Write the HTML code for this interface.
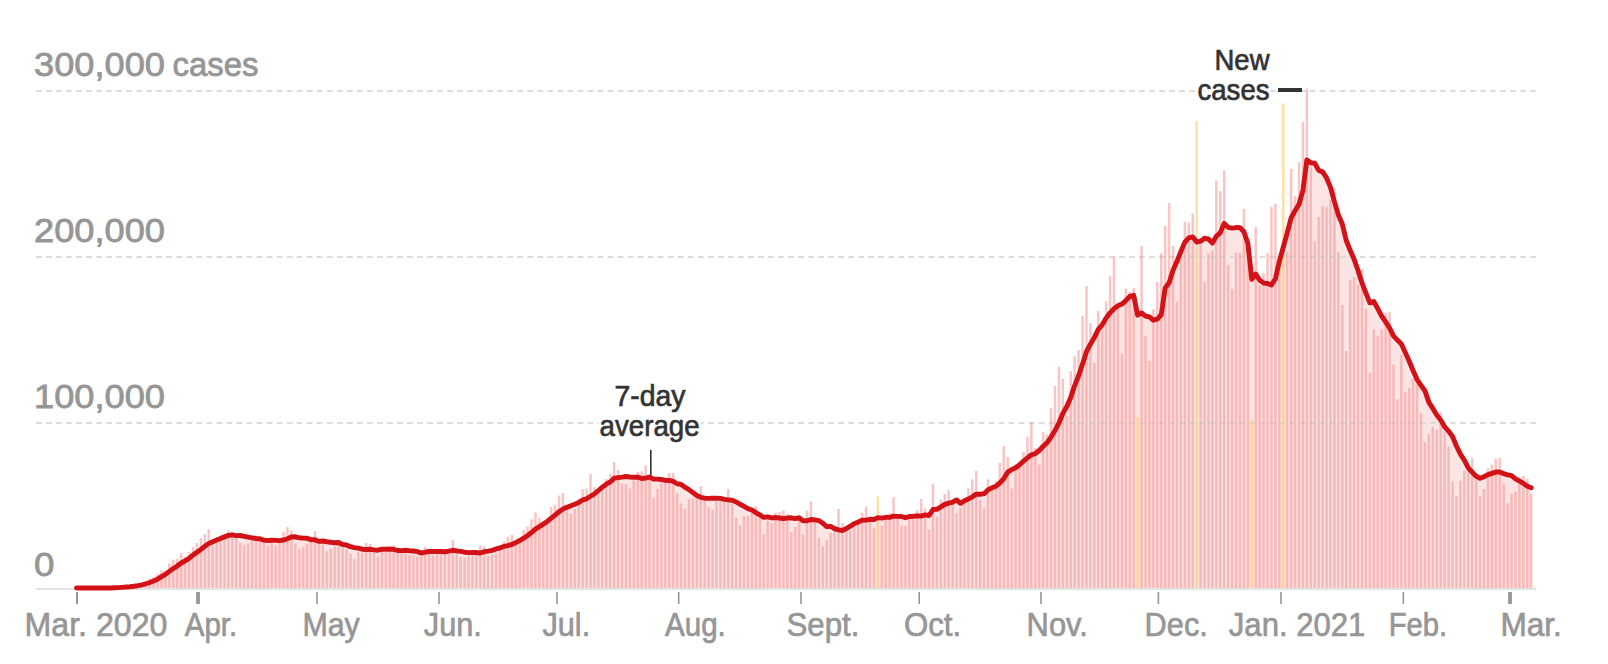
<!DOCTYPE html>
<html><head><meta charset="utf-8"><style>
html,body{margin:0;padding:0;background:#fff;}
svg{display:block;}
text{font-family:"Liberation Sans",sans-serif;}
</style></head><body>
<svg width="1608" height="664" viewBox="0 0 1608 664">
<rect width="1608" height="664" fill="#fff"/>
<g fill="#969696" stroke="#969696" stroke-width="0.8" font-size="34" lengthAdjust="spacingAndGlyphs">
<text x="34" y="76" textLength="131" lengthAdjust="spacingAndGlyphs">300,000</text>
<text x="172.5" y="76" textLength="86" lengthAdjust="spacingAndGlyphs">cases</text>
<text x="34" y="242" textLength="131" lengthAdjust="spacingAndGlyphs">200,000</text>
<text x="34" y="408" textLength="131" lengthAdjust="spacingAndGlyphs">100,000</text>
<text x="34" y="576" textLength="20.5" lengthAdjust="spacingAndGlyphs">0</text>
</g>
<path d="M76.5,589 L76.5,588 L78.85,588 L82.79,588 L86.72,588 L90.66,588 L94.59,588 L98.53,588 L102.47,588 L106.4,588 L110.34,588 L114.27,587.78 L118.21,587.6 L122.15,587.36 L126.08,587.06 L130.02,586.71 L133.95,586.27 L137.89,585.71 L141.83,584.95 L145.76,583.77 L149.7,582.48 L153.63,580.99 L157.57,579.1 L161.51,576.65 L165.44,574.38 L169.38,571.41 L173.31,568.5 L177.25,566.05 L181.19,562.98 L185.12,560.88 L189.06,558.37 L192.99,555.09 L196.93,552.23 L200.87,549.43 L204.8,546.3 L208.74,543.42 L212.67,541.85 L216.61,540.07 L220.55,538.41 L224.48,536.9 L228.42,535.37 L232.35,534.96 L236.29,535.65 L240.23,535.51 L244.16,536.35 L248.1,537.17 L252.03,537.86 L255.97,538.5 L259.91,538.94 L263.84,540.15 L267.78,540.52 L271.71,540.19 L275.65,540.41 L279.59,540.6 L283.52,540.04 L287.46,538.76 L291.39,537.06 L295.33,536.8 L299.27,537.78 L303.2,538.17 L307.14,538.32 L311.07,539.58 L315.01,539.76 L318.95,541.4 L322.88,541 L326.82,541.72 L330.75,542.23 L334.69,542.74 L338.63,542.51 L342.56,544.51 L346.5,544.97 L350.43,546.7 L354.37,547.65 L358.31,548.14 L362.24,549.2 L366.18,549.56 L370.11,549.25 L374.05,549.82 L377.99,550.24 L381.92,549.21 L385.86,549.23 L389.79,549.01 L393.73,549.33 L397.67,550.51 L401.6,550.61 L405.54,550.24 L409.47,550.7 L413.41,551.03 L417.35,551.62 L421.28,553.1 L425.22,552.21 L429.15,551.51 L433.09,551.5 L437.03,551.35 L440.96,551.46 L444.9,551.73 L448.83,551.13 L452.77,550.29 L456.71,550.87 L460.64,551.44 L464.58,552.22 L468.51,552.58 L472.45,552.42 L476.39,552.55 L480.32,552.95 L484.26,551.59 L488.19,551.15 L492.13,550.42 L496.07,548.98 L500,547.86 L503.94,546.45 L507.87,545.66 L511.81,544.46 L515.75,542.59 L519.68,540.51 L523.62,538.22 L527.55,535.6 L531.49,532.54 L535.43,529.07 L539.36,526.63 L543.3,524.14 L547.23,521.43 L551.17,518.18 L555.11,515.08 L559.04,511.69 L562.98,508.95 L566.91,507.25 L570.85,505.85 L574.79,504.16 L578.72,502.57 L582.66,499.92 L586.59,498.78 L590.53,496.24 L594.47,493.9 L598.4,490.51 L602.34,487.15 L606.27,484.22 L610.21,481.97 L614.15,478.13 L618.08,477.57 L622.02,477.11 L625.95,476.51 L629.89,476.97 L633.83,477.27 L637.76,477.1 L641.7,478.57 L645.63,478.05 L649.57,477.04 L653.51,479.07 L657.44,479.16 L661.38,479.51 L665.31,480.34 L669.25,480.49 L673.19,481.44 L677.12,483.74 L681.06,484.41 L684.99,487.22 L688.93,489.61 L692.87,492.58 L696.8,495.52 L700.74,497.3 L704.67,498.21 L708.61,498.39 L712.55,498.19 L716.48,498.21 L720.42,498.39 L724.35,499.42 L728.29,499.82 L732.23,500.27 L736.16,501.9 L740.1,504.25 L744.03,506.46 L747.97,508.7 L751.91,509.97 L755.84,512.64 L759.78,514.87 L763.71,517.36 L767.65,516.86 L771.59,517.93 L775.52,517.53 L779.46,518.01 L783.39,518.61 L787.33,518.06 L791.27,517.8 L795.2,518.66 L799.14,517.76 L803.07,520.87 L807.01,520.79 L810.95,519.47 L814.88,519.9 L818.82,520.56 L822.75,523.23 L826.69,526.57 L830.63,526.4 L834.56,528.73 L838.5,529.83 L842.43,530.47 L846.37,528.57 L850.31,526.23 L854.24,523.66 L858.18,522.08 L862.11,520.32 L866.05,520.1 L869.99,519.32 L873.92,519.54 L877.86,517.64 L881.79,518.07 L885.73,517.32 L889.67,517.36 L893.6,516.14 L897.54,516.33 L901.47,516.51 L905.41,517.74 L909.35,516.52 L913.28,516.23 L917.22,515.84 L921.15,516.07 L925.09,514.86 L929.03,515.49 L932.96,509.53 L936.9,509.41 L940.83,506.92 L944.77,504.41 L948.71,503.15 L952.64,502.07 L956.58,499.89 L960.51,503.35 L964.45,500.8 L968.39,499.06 L972.32,496.86 L976.26,494.13 L980.19,494.25 L984.13,493.68 L988.07,489.72 L992,487.85 L995.94,486.25 L999.87,482.85 L1003.81,478.54 L1007.75,472.1 L1011.68,469.67 L1015.62,467.76 L1019.55,464.79 L1023.49,461.16 L1027.43,457.82 L1031.36,454.77 L1035.3,453.72 L1039.23,450.52 L1043.17,446.24 L1047.11,442.68 L1051.04,437.07 L1054.98,430.48 L1058.91,423.04 L1062.85,413.47 L1066.79,406.52 L1070.72,397.56 L1074.66,385.54 L1078.59,375.75 L1082.53,363.94 L1086.47,351.67 L1090.4,344.15 L1094.34,337.61 L1098.27,329.3 L1102.21,324.76 L1106.15,317.95 L1110.08,312.82 L1114.02,308.68 L1117.95,305.83 L1121.89,304.1 L1125.83,300.69 L1129.76,296.44 L1133.7,295.34 L1137.63,315.21 L1141.57,312.9 L1145.51,316.06 L1149.44,316.99 L1153.38,320.21 L1157.31,319.13 L1161.25,314.64 L1165.19,287.95 L1169.12,282.7 L1173.06,270.22 L1176.99,261.27 L1180.93,251.44 L1184.87,242.09 L1188.8,237.8 L1192.74,236.89 L1196.67,242.1 L1200.61,241.17 L1204.55,238.3 L1208.48,238.97 L1212.42,242.92 L1216.35,236.31 L1220.29,232.61 L1224.23,223.39 L1228.16,227.41 L1232.1,228.14 L1236.03,227.55 L1239.97,227.62 L1243.91,231.8 L1247.84,243.18 L1251.78,279.33 L1255.71,274.03 L1259.65,280.18 L1263.59,283.07 L1267.52,283.48 L1271.46,284.96 L1275.39,278.78 L1279.33,261.34 L1283.27,247.24 L1287.2,232.83 L1291.14,217.78 L1295.07,210.74 L1299.01,204.23 L1302.95,190.41 L1306.88,159.86 L1310.82,162.79 L1314.75,163.28 L1318.69,170.41 L1322.63,171.85 L1326.56,177.87 L1330.5,187.42 L1334.43,201.77 L1338.37,214.91 L1342.31,224.07 L1346.24,240.5 L1350.18,250.23 L1354.11,259.34 L1358.05,270.48 L1361.99,282.97 L1365.92,293.04 L1369.86,302.84 L1373.79,301.5 L1377.73,308.55 L1381.67,316.1 L1385.6,321.92 L1389.54,327.88 L1393.47,335.89 L1397.41,340.08 L1401.35,344.08 L1405.28,352.48 L1409.22,361.2 L1413.15,370.7 L1417.09,379.56 L1421.03,385.31 L1424.96,390.9 L1428.9,402.38 L1432.83,408.4 L1436.77,415.04 L1440.71,419.99 L1444.64,426.91 L1448.58,431.17 L1452.51,436.56 L1456.45,445.95 L1460.39,454.1 L1464.32,460.14 L1468.26,467.92 L1472.19,472.22 L1476.13,476.17 L1480.07,478.33 L1484,476.78 L1487.94,474.7 L1491.87,473.41 L1495.81,472.07 L1499.75,472.07 L1503.68,473.6 L1507.62,474.84 L1511.55,475.6 L1515.49,478.93 L1519.43,480.99 L1523.36,483.35 L1527.3,486.29 L1531.23,487.72 L1531.23,589 Z" fill="#fbe4e4"/>
<g stroke="#dcdcdc" stroke-width="1.8" stroke-dasharray="5.8 4.228">
<line x1="36" y1="91" x2="1536" y2="91"/>
<line x1="36" y1="257" x2="1536" y2="257"/>
<line x1="36" y1="423" x2="1536" y2="423"/>
</g>
<g fill="#f69595" fill-opacity="0.556"><rect x="113.02" y="588" width="2.5" height="1"/><rect x="116.96" y="587.8" width="2.5" height="1.2"/><rect x="120.9" y="587.6" width="2.5" height="1.4"/><rect x="124.83" y="587.4" width="2.5" height="1.6"/><rect x="128.77" y="587.2" width="2.5" height="1.8"/><rect x="132.7" y="586.5" width="2.5" height="2.5"/><rect x="136.64" y="585.5" width="2.5" height="3.5"/><rect x="140.58" y="584" width="2.5" height="5"/><rect x="144.51" y="581" width="2.5" height="8"/><rect x="148.45" y="578.6" width="2.5" height="10.4"/><rect x="152.38" y="577" width="2.5" height="12"/><rect x="156.32" y="573.9" width="2.5" height="15.1"/><rect x="160.26" y="570.6" width="2.5" height="18.4"/><rect x="164.19" y="570.7" width="2.5" height="18.3"/><rect x="168.13" y="563.35" width="2.5" height="25.65"/><rect x="172.06" y="559.55" width="2.5" height="29.45"/><rect x="176" y="558.85" width="2.5" height="30.15"/><rect x="179.94" y="552.8" width="2.5" height="36.2"/><rect x="183.87" y="557" width="2.5" height="32"/><rect x="187.81" y="551.9" width="2.5" height="37.1"/><rect x="191.74" y="547.1" width="2.5" height="41.9"/><rect x="195.68" y="542.8" width="2.5" height="46.2"/><rect x="199.62" y="538.3" width="2.5" height="50.7"/><rect x="203.55" y="534.1" width="2.5" height="54.9"/><rect x="207.49" y="529.3" width="2.5" height="59.7"/><rect x="211.42" y="545.5" width="2.5" height="43.5"/><rect x="215.36" y="542.5" width="2.5" height="46.5"/><rect x="219.3" y="540.7" width="2.5" height="48.3"/><rect x="223.23" y="538.9" width="2.5" height="50.1"/><rect x="227.17" y="530.2" width="2.5" height="58.8"/><rect x="231.1" y="532.3" width="2.5" height="56.7"/><rect x="235.04" y="537.1" width="2.5" height="51.9"/><rect x="238.98" y="542.8" width="2.5" height="46.2"/><rect x="242.91" y="544.9" width="2.5" height="44.1"/><rect x="246.85" y="543.5" width="2.5" height="45.5"/><rect x="250.78" y="540.7" width="2.5" height="48.3"/><rect x="254.72" y="535.3" width="2.5" height="53.7"/><rect x="258.66" y="535.9" width="2.5" height="53.1"/><rect x="262.59" y="542.5" width="2.5" height="46.5"/><rect x="266.53" y="545.9" width="2.5" height="43.1"/><rect x="270.46" y="543.1" width="2.5" height="45.9"/><rect x="274.4" y="545.5" width="2.5" height="43.5"/><rect x="278.34" y="542.5" width="2.5" height="46.5"/><rect x="282.27" y="531.7" width="2.5" height="57.3"/><rect x="286.21" y="527.1" width="2.5" height="61.9"/><rect x="290.14" y="530.7" width="2.5" height="58.3"/><rect x="294.08" y="543.7" width="2.5" height="45.3"/><rect x="298.02" y="549.2" width="2.5" height="39.8"/><rect x="301.95" y="547.1" width="2.5" height="41.9"/><rect x="305.89" y="543.7" width="2.5" height="45.3"/><rect x="309.82" y="541.9" width="2.5" height="47.1"/><rect x="313.76" y="531.1" width="2.5" height="57.9"/><rect x="317.7" y="543.1" width="2.5" height="45.9"/><rect x="321.63" y="544.3" width="2.5" height="44.7"/><rect x="325.57" y="551.3" width="2.5" height="37.7"/><rect x="329.5" y="548.6" width="2.5" height="40.4"/><rect x="333.44" y="546.7" width="2.5" height="42.3"/><rect x="337.38" y="545" width="2.5" height="44"/><rect x="341.31" y="547.3" width="2.5" height="41.7"/><rect x="345.25" y="549.2" width="2.5" height="39.8"/><rect x="349.18" y="554" width="2.5" height="35"/><rect x="353.12" y="558.8" width="2.5" height="30.2"/><rect x="357.06" y="551.6" width="2.5" height="37.4"/><rect x="360.99" y="552.8" width="2.5" height="36.2"/><rect x="364.93" y="542.8" width="2.5" height="46.2"/><rect x="368.86" y="544" width="2.5" height="45"/><rect x="372.8" y="552.2" width="2.5" height="36.8"/><rect x="376.74" y="556.4" width="2.5" height="32.6"/><rect x="380.67" y="551.6" width="2.5" height="37.4"/><rect x="384.61" y="552.2" width="2.5" height="36.8"/><rect x="388.54" y="551.6" width="2.5" height="37.4"/><rect x="392.48" y="545.2" width="2.5" height="43.8"/><rect x="396.42" y="552.2" width="2.5" height="36.8"/><rect x="400.35" y="552.8" width="2.5" height="36.2"/><rect x="404.29" y="554" width="2.5" height="35"/><rect x="408.22" y="555.2" width="2.5" height="33.8"/><rect x="412.16" y="555.2" width="2.5" height="33.8"/><rect x="416.1" y="556.4" width="2.5" height="32.6"/><rect x="420.03" y="556.4" width="2.5" height="32.6"/><rect x="423.97" y="547.1" width="2.5" height="41.9"/><rect x="427.9" y="549.2" width="2.5" height="39.8"/><rect x="431.84" y="555.2" width="2.5" height="33.8"/><rect x="435.78" y="554.6" width="2.5" height="34.4"/><rect x="439.71" y="554" width="2.5" height="35"/><rect x="443.65" y="554" width="2.5" height="35"/><rect x="447.58" y="553.6" width="2.5" height="35.4"/><rect x="451.52" y="540" width="2.5" height="49"/><rect x="455.46" y="553.2" width="2.5" height="35.8"/><rect x="459.39" y="557" width="2.5" height="32"/><rect x="463.33" y="557.9" width="2.5" height="31.1"/><rect x="467.26" y="555.9" width="2.5" height="33.1"/><rect x="471.2" y="553.9" width="2.5" height="35.1"/><rect x="475.14" y="553.2" width="2.5" height="35.8"/><rect x="479.07" y="545.3" width="2.5" height="43.7"/><rect x="483.01" y="546" width="2.5" height="43"/><rect x="486.94" y="555.9" width="2.5" height="33.1"/><rect x="490.88" y="554.5" width="2.5" height="34.5"/><rect x="494.82" y="553.2" width="2.5" height="35.8"/><rect x="498.75" y="545.5" width="2.5" height="43.5"/><rect x="502.69" y="541.3" width="2.5" height="47.7"/><rect x="506.62" y="536.9" width="2.5" height="52.1"/><rect x="510.56" y="534.9" width="2.5" height="54.1"/><rect x="514.5" y="545" width="2.5" height="44"/><rect x="518.43" y="539.6" width="2.5" height="49.4"/><rect x="522.37" y="529.9" width="2.5" height="59.1"/><rect x="526.3" y="526.4" width="2.5" height="62.6"/><rect x="530.24" y="519.3" width="2.5" height="69.7"/><rect x="534.18" y="512.3" width="2.5" height="76.7"/><rect x="538.11" y="517.7" width="2.5" height="71.3"/><rect x="542.05" y="524.7" width="2.5" height="64.3"/><rect x="545.98" y="520.7" width="2.5" height="68.3"/><rect x="549.92" y="507.1" width="2.5" height="81.9"/><rect x="553.86" y="504.8" width="2.5" height="84.2"/><rect x="557.79" y="495.6" width="2.5" height="93.4"/><rect x="561.73" y="493.1" width="2.5" height="95.9"/><rect x="565.66" y="509.1" width="2.5" height="79.9"/><rect x="569.6" y="513.6" width="2.5" height="75.4"/><rect x="573.54" y="509" width="2.5" height="80"/><rect x="577.47" y="498.5" width="2.5" height="90.5"/><rect x="581.41" y="489" width="2.5" height="100"/><rect x="585.34" y="488.4" width="2.5" height="100.6"/><rect x="589.28" y="474.1" width="2.5" height="114.9"/><rect x="593.22" y="487.3" width="2.5" height="101.7"/><rect x="597.15" y="493.8" width="2.5" height="95.2"/><rect x="601.09" y="489.7" width="2.5" height="99.3"/><rect x="605.02" y="478.9" width="2.5" height="110.1"/><rect x="608.96" y="474.1" width="2.5" height="114.9"/><rect x="612.9" y="461.9" width="2.5" height="127.1"/><rect x="616.83" y="470.1" width="2.5" height="118.9"/><rect x="620.77" y="483.6" width="2.5" height="105.4"/><rect x="624.7" y="484.3" width="2.5" height="104.7"/><rect x="628.64" y="488.4" width="2.5" height="100.6"/><rect x="632.58" y="480.2" width="2.5" height="108.8"/><rect x="636.51" y="472.1" width="2.5" height="116.9"/><rect x="640.45" y="471.4" width="2.5" height="117.6"/><rect x="644.38" y="465.6" width="2.5" height="123.4"/><rect x="648.32" y="477.5" width="2.5" height="111.5"/><rect x="652.26" y="497.9" width="2.5" height="91.1"/><rect x="656.19" y="489" width="2.5" height="100"/><rect x="660.13" y="483" width="2.5" height="106"/><rect x="664.06" y="483" width="2.5" height="106"/><rect x="668" y="473.2" width="2.5" height="115.8"/><rect x="671.94" y="473.2" width="2.5" height="115.8"/><rect x="675.87" y="493.1" width="2.5" height="95.9"/><rect x="679.81" y="503.3" width="2.5" height="85.7"/><rect x="683.74" y="508.7" width="2.5" height="80.3"/><rect x="687.68" y="498.9" width="2.5" height="90.1"/><rect x="691.62" y="498.5" width="2.5" height="90.5"/><rect x="695.55" y="498" width="2.5" height="91"/><rect x="699.49" y="486.3" width="2.5" height="102.7"/><rect x="703.42" y="501.2" width="2.5" height="87.8"/><rect x="707.36" y="506.9" width="2.5" height="82.1"/><rect x="711.3" y="509.6" width="2.5" height="79.4"/><rect x="715.23" y="501.4" width="2.5" height="87.6"/><rect x="719.17" y="501.4" width="2.5" height="87.6"/><rect x="723.1" y="501.4" width="2.5" height="87.6"/><rect x="727.04" y="489" width="2.5" height="100"/><rect x="730.98" y="503.9" width="2.5" height="85.1"/><rect x="734.91" y="517.7" width="2.5" height="71.3"/><rect x="738.85" y="525.3" width="2.5" height="63.7"/><rect x="742.78" y="516.1" width="2.5" height="72.9"/><rect x="746.72" y="516.1" width="2.5" height="72.9"/><rect x="750.66" y="513.4" width="2.5" height="75.6"/><rect x="754.59" y="506.3" width="2.5" height="82.7"/><rect x="758.53" y="518.1" width="2.5" height="70.9"/><rect x="762.46" y="534" width="2.5" height="55"/><rect x="766.4" y="520.8" width="2.5" height="68.2"/><rect x="770.34" y="522.9" width="2.5" height="66.1"/><rect x="774.27" y="512.7" width="2.5" height="76.3"/><rect x="778.21" y="512" width="2.5" height="77"/><rect x="782.14" y="510.3" width="2.5" height="78.7"/><rect x="786.08" y="514.1" width="2.5" height="74.9"/><rect x="790.02" y="532.1" width="2.5" height="56.9"/><rect x="793.95" y="526.9" width="2.5" height="62.1"/><rect x="797.89" y="520.1" width="2.5" height="68.9"/><rect x="801.82" y="534" width="2.5" height="55"/><rect x="805.76" y="510.7" width="2.5" height="78.3"/><rect x="809.7" y="501.4" width="2.5" height="87.6"/><rect x="813.63" y="521.5" width="2.5" height="67.5"/><rect x="817.57" y="538" width="2.5" height="51"/><rect x="821.5" y="546.2" width="2.5" height="42.8"/><rect x="825.44" y="539.8" width="2.5" height="49.2"/><rect x="829.38" y="532.6" width="2.5" height="56.4"/><rect x="833.31" y="531" width="2.5" height="58"/><rect x="837.25" y="509" width="2.5" height="80"/><rect x="841.18" y="523.1" width="2.5" height="65.9"/><rect x="845.12" y="531" width="2.5" height="58"/><rect x="849.06" y="531" width="2.5" height="58"/><rect x="852.99" y="526.9" width="2.5" height="62.1"/><rect x="856.93" y="522.9" width="2.5" height="66.1"/><rect x="860.86" y="512.7" width="2.5" height="76.3"/><rect x="864.8" y="506.6" width="2.5" height="82.4"/><rect x="868.74" y="521.5" width="2.5" height="67.5"/><rect x="872.67" y="527.6" width="2.5" height="61.4"/><rect x="880.54" y="525.8" width="2.5" height="63.2"/><rect x="884.48" y="520.1" width="2.5" height="68.9"/><rect x="888.42" y="513.1" width="2.5" height="75.9"/><rect x="892.35" y="497.1" width="2.5" height="91.9"/><rect x="896.29" y="516.8" width="2.5" height="72.2"/><rect x="900.22" y="525.8" width="2.5" height="63.2"/><rect x="904.16" y="525.8" width="2.5" height="63.2"/><rect x="908.1" y="516.1" width="2.5" height="72.9"/><rect x="912.03" y="514.7" width="2.5" height="74.3"/><rect x="915.97" y="510.7" width="2.5" height="78.3"/><rect x="919.9" y="498.9" width="2.5" height="90.1"/><rect x="923.84" y="508.4" width="2.5" height="80.6"/><rect x="927.78" y="529.6" width="2.5" height="59.4"/><rect x="931.71" y="484" width="2.5" height="105"/><rect x="935.65" y="516.8" width="2.5" height="72.2"/><rect x="939.58" y="499.8" width="2.5" height="89.2"/><rect x="943.52" y="494.1" width="2.5" height="94.9"/><rect x="947.46" y="490.2" width="2.5" height="98.8"/><rect x="951.39" y="503.8" width="2.5" height="85.2"/><rect x="955.33" y="513.2" width="2.5" height="75.8"/><rect x="959.26" y="507.7" width="2.5" height="81.3"/><rect x="963.2" y="497.9" width="2.5" height="91.1"/><rect x="967.14" y="488.5" width="2.5" height="100.5"/><rect x="971.07" y="479.3" width="2.5" height="109.7"/><rect x="975.01" y="470.9" width="2.5" height="118.1"/><rect x="978.94" y="499.8" width="2.5" height="89.2"/><rect x="982.88" y="507.7" width="2.5" height="81.3"/><rect x="986.82" y="479.3" width="2.5" height="109.7"/><rect x="990.75" y="486.1" width="2.5" height="102.9"/><rect x="994.69" y="480.7" width="2.5" height="108.3"/><rect x="998.62" y="463" width="2.5" height="126"/><rect x="1002.56" y="446" width="2.5" height="143"/><rect x="1006.5" y="457.2" width="2.5" height="131.8"/><rect x="1010.43" y="488.5" width="2.5" height="100.5"/><rect x="1014.37" y="464.2" width="2.5" height="124.8"/><rect x="1018.3" y="466.6" width="2.5" height="122.4"/><rect x="1022.24" y="451.9" width="2.5" height="137.1"/><rect x="1026.18" y="436.8" width="2.5" height="152.2"/><rect x="1030.11" y="422.5" width="2.5" height="166.5"/><rect x="1034.05" y="448" width="2.5" height="141"/><rect x="1037.98" y="464.6" width="2.5" height="124.4"/><rect x="1041.92" y="432" width="2.5" height="157"/><rect x="1045.86" y="434.3" width="2.5" height="154.7"/><rect x="1049.79" y="408.1" width="2.5" height="180.9"/><rect x="1053.73" y="386.1" width="2.5" height="202.9"/><rect x="1057.66" y="366.9" width="2.5" height="222.1"/><rect x="1061.6" y="378.9" width="2.5" height="210.1"/><rect x="1065.54" y="415.7" width="2.5" height="173.3"/><rect x="1069.47" y="371.1" width="2.5" height="217.9"/><rect x="1073.41" y="356" width="2.5" height="233"/><rect x="1077.34" y="350" width="2.5" height="239"/><rect x="1081.28" y="315.7" width="2.5" height="273.3"/><rect x="1085.22" y="286.1" width="2.5" height="302.9"/><rect x="1089.15" y="323.2" width="2.5" height="265.8"/><rect x="1093.09" y="363" width="2.5" height="226"/><rect x="1097.02" y="311.1" width="2.5" height="277.9"/><rect x="1100.96" y="326.8" width="2.5" height="262.2"/><rect x="1104.9" y="301.2" width="2.5" height="287.8"/><rect x="1108.83" y="276.2" width="2.5" height="312.8"/><rect x="1112.77" y="256.6" width="2.5" height="332.4"/><rect x="1116.7" y="305.7" width="2.5" height="283.3"/><rect x="1120.64" y="353.9" width="2.5" height="235.1"/><rect x="1124.58" y="288.6" width="2.5" height="300.4"/><rect x="1128.51" y="292.2" width="2.5" height="296.8"/><rect x="1132.45" y="287.8" width="2.5" height="301.2"/><rect x="1140.32" y="245.8" width="2.5" height="343.2"/><rect x="1144.26" y="336.2" width="2.5" height="252.8"/><rect x="1148.19" y="361" width="2.5" height="228"/><rect x="1152.13" y="309.1" width="2.5" height="279.9"/><rect x="1156.06" y="282" width="2.5" height="307"/><rect x="1160" y="253.4" width="2.5" height="335.6"/><rect x="1163.94" y="225.7" width="2.5" height="363.3"/><rect x="1167.87" y="203.1" width="2.5" height="385.9"/><rect x="1171.81" y="245.8" width="2.5" height="343.2"/><rect x="1175.74" y="301.6" width="2.5" height="287.4"/><rect x="1179.68" y="250.4" width="2.5" height="338.6"/><rect x="1183.62" y="221.7" width="2.5" height="367.3"/><rect x="1187.55" y="222.7" width="2.5" height="366.3"/><rect x="1191.49" y="213.6" width="2.5" height="375.4"/><rect x="1199.36" y="241.3" width="2.5" height="347.7"/><rect x="1203.3" y="282" width="2.5" height="307"/><rect x="1207.23" y="253.4" width="2.5" height="335.6"/><rect x="1211.17" y="250.4" width="2.5" height="338.6"/><rect x="1215.1" y="180.5" width="2.5" height="408.5"/><rect x="1219.04" y="191" width="2.5" height="398"/><rect x="1222.98" y="170.5" width="2.5" height="418.5"/><rect x="1226.91" y="265.4" width="2.5" height="323.6"/><rect x="1230.85" y="289.1" width="2.5" height="299.9"/><rect x="1234.78" y="252.9" width="2.5" height="336.1"/><rect x="1238.72" y="252.9" width="2.5" height="336.1"/><rect x="1242.66" y="208.8" width="2.5" height="380.2"/><rect x="1246.59" y="243" width="2.5" height="346"/><rect x="1254.46" y="227.2" width="2.5" height="361.8"/><rect x="1258.4" y="285" width="2.5" height="304"/><rect x="1262.34" y="273.4" width="2.5" height="315.6"/><rect x="1266.27" y="253.2" width="2.5" height="335.8"/><rect x="1270.21" y="206.7" width="2.5" height="382.3"/><rect x="1274.14" y="203.7" width="2.5" height="385.3"/><rect x="1278.08" y="255" width="2.5" height="334"/><rect x="1285.95" y="251.8" width="2.5" height="337.2"/><rect x="1289.89" y="168.9" width="2.5" height="420.1"/><rect x="1293.82" y="196" width="2.5" height="393"/><rect x="1297.76" y="161.9" width="2.5" height="427.1"/><rect x="1301.7" y="122.2" width="2.5" height="466.8"/><rect x="1305.63" y="88.4" width="2.5" height="500.6"/><rect x="1309.57" y="167.3" width="2.5" height="421.7"/><rect x="1313.5" y="241.1" width="2.5" height="347.9"/><rect x="1317.44" y="217" width="2.5" height="372"/><rect x="1321.38" y="206.1" width="2.5" height="382.9"/><rect x="1325.31" y="206.9" width="2.5" height="382.1"/><rect x="1329.25" y="200" width="2.5" height="389"/><rect x="1333.18" y="188.2" width="2.5" height="400.8"/><rect x="1337.12" y="252" width="2.5" height="337"/><rect x="1341.06" y="305" width="2.5" height="284"/><rect x="1344.99" y="351" width="2.5" height="238"/><rect x="1348.93" y="280.1" width="2.5" height="308.9"/><rect x="1352.86" y="277" width="2.5" height="312"/><rect x="1356.8" y="284.6" width="2.5" height="304.4"/><rect x="1360.74" y="268.9" width="2.5" height="320.1"/><rect x="1364.67" y="308.7" width="2.5" height="280.3"/><rect x="1368.61" y="372.6" width="2.5" height="216.4"/><rect x="1372.54" y="329.2" width="2.5" height="259.8"/><rect x="1376.48" y="335.8" width="2.5" height="253.2"/><rect x="1380.42" y="329.2" width="2.5" height="259.8"/><rect x="1384.35" y="312.9" width="2.5" height="276.1"/><rect x="1388.29" y="312" width="2.5" height="277"/><rect x="1392.22" y="364.7" width="2.5" height="224.3"/><rect x="1396.16" y="399" width="2.5" height="190"/><rect x="1400.1" y="354.8" width="2.5" height="234.2"/><rect x="1404.03" y="391.8" width="2.5" height="197.2"/><rect x="1407.97" y="387.9" width="2.5" height="201.1"/><rect x="1411.9" y="378.9" width="2.5" height="210.1"/><rect x="1415.84" y="383.4" width="2.5" height="205.6"/><rect x="1419.78" y="412.9" width="2.5" height="176.1"/><rect x="1423.71" y="442.1" width="2.5" height="146.9"/><rect x="1427.65" y="434" width="2.5" height="155"/><rect x="1431.58" y="427" width="2.5" height="162"/><rect x="1435.52" y="430" width="2.5" height="159"/><rect x="1439.46" y="412" width="2.5" height="177"/><rect x="1443.39" y="431.6" width="2.5" height="157.4"/><rect x="1447.33" y="446.7" width="2.5" height="142.3"/><rect x="1451.26" y="481.6" width="2.5" height="107.4"/><rect x="1455.2" y="496" width="2.5" height="93"/><rect x="1459.14" y="480.7" width="2.5" height="108.3"/><rect x="1463.07" y="470.8" width="2.5" height="118.2"/><rect x="1467.01" y="470" width="2.5" height="119"/><rect x="1470.94" y="458.1" width="2.5" height="130.9"/><rect x="1474.88" y="473" width="2.5" height="116"/><rect x="1478.82" y="496" width="2.5" height="93"/><rect x="1482.75" y="489" width="2.5" height="100"/><rect x="1486.69" y="468.3" width="2.5" height="120.7"/><rect x="1490.62" y="464.4" width="2.5" height="124.6"/><rect x="1494.56" y="458.8" width="2.5" height="130.2"/><rect x="1498.5" y="458.1" width="2.5" height="130.9"/><rect x="1502.43" y="483.7" width="2.5" height="105.3"/><rect x="1506.37" y="503.3" width="2.5" height="85.7"/><rect x="1510.3" y="493.9" width="2.5" height="95.1"/><rect x="1514.24" y="492" width="2.5" height="97"/><rect x="1518.18" y="482" width="2.5" height="107"/><rect x="1522.11" y="475.8" width="2.5" height="113.2"/><rect x="1526.05" y="478.9" width="2.5" height="110.1"/><rect x="1529.98" y="493.9" width="2.5" height="95.1"/></g>
<g fill="#fbc151" fill-opacity="0.5"><rect x="876.61" y="496.4" width="2.5" height="92.6"/><rect x="1136.38" y="417" width="2.5" height="172"/><rect x="1195.42" y="121" width="2.5" height="468"/><rect x="1250.53" y="420" width="2.5" height="169"/><rect x="1282.02" y="103.5" width="2.5" height="485.5"/></g>
<line x1="36" y1="589" x2="1536" y2="589" stroke="#e2e4e4" stroke-width="1.8"/>
<path d="M76.5,588 L78.85,588 L82.79,588 L86.72,588 L90.66,588 L94.59,588 L98.53,588 L102.47,588 L106.4,588 L110.34,588 L114.27,587.78 L118.21,587.6 L122.15,587.36 L126.08,587.06 L130.02,586.71 L133.95,586.27 L137.89,585.71 L141.83,584.95 L145.76,583.77 L149.7,582.48 L153.63,580.99 L157.57,579.1 L161.51,576.65 L165.44,574.38 L169.38,571.41 L173.31,568.5 L177.25,566.05 L181.19,562.98 L185.12,560.88 L189.06,558.37 L192.99,555.09 L196.93,552.23 L200.87,549.43 L204.8,546.3 L208.74,543.42 L212.67,541.85 L216.61,540.07 L220.55,538.41 L224.48,536.9 L228.42,535.37 L232.35,534.96 L236.29,535.65 L240.23,535.51 L244.16,536.35 L248.1,537.17 L252.03,537.86 L255.97,538.5 L259.91,538.94 L263.84,540.15 L267.78,540.52 L271.71,540.19 L275.65,540.41 L279.59,540.6 L283.52,540.04 L287.46,538.76 L291.39,537.06 L295.33,536.8 L299.27,537.78 L303.2,538.17 L307.14,538.32 L311.07,539.58 L315.01,539.76 L318.95,541.4 L322.88,541 L326.82,541.72 L330.75,542.23 L334.69,542.74 L338.63,542.51 L342.56,544.51 L346.5,544.97 L350.43,546.7 L354.37,547.65 L358.31,548.14 L362.24,549.2 L366.18,549.56 L370.11,549.25 L374.05,549.82 L377.99,550.24 L381.92,549.21 L385.86,549.23 L389.79,549.01 L393.73,549.33 L397.67,550.51 L401.6,550.61 L405.54,550.24 L409.47,550.7 L413.41,551.03 L417.35,551.62 L421.28,553.1 L425.22,552.21 L429.15,551.51 L433.09,551.5 L437.03,551.35 L440.96,551.46 L444.9,551.73 L448.83,551.13 L452.77,550.29 L456.71,550.87 L460.64,551.44 L464.58,552.22 L468.51,552.58 L472.45,552.42 L476.39,552.55 L480.32,552.95 L484.26,551.59 L488.19,551.15 L492.13,550.42 L496.07,548.98 L500,547.86 L503.94,546.45 L507.87,545.66 L511.81,544.46 L515.75,542.59 L519.68,540.51 L523.62,538.22 L527.55,535.6 L531.49,532.54 L535.43,529.07 L539.36,526.63 L543.3,524.14 L547.23,521.43 L551.17,518.18 L555.11,515.08 L559.04,511.69 L562.98,508.95 L566.91,507.25 L570.85,505.85 L574.79,504.16 L578.72,502.57 L582.66,499.92 L586.59,498.78 L590.53,496.24 L594.47,493.9 L598.4,490.51 L602.34,487.15 L606.27,484.22 L610.21,481.97 L614.15,478.13 L618.08,477.57 L622.02,477.11 L625.95,476.51 L629.89,476.97 L633.83,477.27 L637.76,477.1 L641.7,478.57 L645.63,478.05 L649.57,477.04 L653.51,479.07 L657.44,479.16 L661.38,479.51 L665.31,480.34 L669.25,480.49 L673.19,481.44 L677.12,483.74 L681.06,484.41 L684.99,487.22 L688.93,489.61 L692.87,492.58 L696.8,495.52 L700.74,497.3 L704.67,498.21 L708.61,498.39 L712.55,498.19 L716.48,498.21 L720.42,498.39 L724.35,499.42 L728.29,499.82 L732.23,500.27 L736.16,501.9 L740.1,504.25 L744.03,506.46 L747.97,508.7 L751.91,509.97 L755.84,512.64 L759.78,514.87 L763.71,517.36 L767.65,516.86 L771.59,517.93 L775.52,517.53 L779.46,518.01 L783.39,518.61 L787.33,518.06 L791.27,517.8 L795.2,518.66 L799.14,517.76 L803.07,520.87 L807.01,520.79 L810.95,519.47 L814.88,519.9 L818.82,520.56 L822.75,523.23 L826.69,526.57 L830.63,526.4 L834.56,528.73 L838.5,529.83 L842.43,530.47 L846.37,528.57 L850.31,526.23 L854.24,523.66 L858.18,522.08 L862.11,520.32 L866.05,520.1 L869.99,519.32 L873.92,519.54 L877.86,517.64 L881.79,518.07 L885.73,517.32 L889.67,517.36 L893.6,516.14 L897.54,516.33 L901.47,516.51 L905.41,517.74 L909.35,516.52 L913.28,516.23 L917.22,515.84 L921.15,516.07 L925.09,514.86 L929.03,515.49 L932.96,509.53 L936.9,509.41 L940.83,506.92 L944.77,504.41 L948.71,503.15 L952.64,502.07 L956.58,499.89 L960.51,503.35 L964.45,500.8 L968.39,499.06 L972.32,496.86 L976.26,494.13 L980.19,494.25 L984.13,493.68 L988.07,489.72 L992,487.85 L995.94,486.25 L999.87,482.85 L1003.81,478.54 L1007.75,472.1 L1011.68,469.67 L1015.62,467.76 L1019.55,464.79 L1023.49,461.16 L1027.43,457.82 L1031.36,454.77 L1035.3,453.72 L1039.23,450.52 L1043.17,446.24 L1047.11,442.68 L1051.04,437.07 L1054.98,430.48 L1058.91,423.04 L1062.85,413.47 L1066.79,406.52 L1070.72,397.56 L1074.66,385.54 L1078.59,375.75 L1082.53,363.94 L1086.47,351.67 L1090.4,344.15 L1094.34,337.61 L1098.27,329.3 L1102.21,324.76 L1106.15,317.95 L1110.08,312.82 L1114.02,308.68 L1117.95,305.83 L1121.89,304.1 L1125.83,300.69 L1129.76,296.44 L1133.7,295.34 L1137.63,315.21 L1141.57,312.9 L1145.51,316.06 L1149.44,316.99 L1153.38,320.21 L1157.31,319.13 L1161.25,314.64 L1165.19,287.95 L1169.12,282.7 L1173.06,270.22 L1176.99,261.27 L1180.93,251.44 L1184.87,242.09 L1188.8,237.8 L1192.74,236.89 L1196.67,242.1 L1200.61,241.17 L1204.55,238.3 L1208.48,238.97 L1212.42,242.92 L1216.35,236.31 L1220.29,232.61 L1224.23,223.39 L1228.16,227.41 L1232.1,228.14 L1236.03,227.55 L1239.97,227.62 L1243.91,231.8 L1247.84,243.18 L1251.78,279.33 L1255.71,274.03 L1259.65,280.18 L1263.59,283.07 L1267.52,283.48 L1271.46,284.96 L1275.39,278.78 L1279.33,261.34 L1283.27,247.24 L1287.2,232.83 L1291.14,217.78 L1295.07,210.74 L1299.01,204.23 L1302.95,190.41 L1306.88,159.86 L1310.82,162.79 L1314.75,163.28 L1318.69,170.41 L1322.63,171.85 L1326.56,177.87 L1330.5,187.42 L1334.43,201.77 L1338.37,214.91 L1342.31,224.07 L1346.24,240.5 L1350.18,250.23 L1354.11,259.34 L1358.05,270.48 L1361.99,282.97 L1365.92,293.04 L1369.86,302.84 L1373.79,301.5 L1377.73,308.55 L1381.67,316.1 L1385.6,321.92 L1389.54,327.88 L1393.47,335.89 L1397.41,340.08 L1401.35,344.08 L1405.28,352.48 L1409.22,361.2 L1413.15,370.7 L1417.09,379.56 L1421.03,385.31 L1424.96,390.9 L1428.9,402.38 L1432.83,408.4 L1436.77,415.04 L1440.71,419.99 L1444.64,426.91 L1448.58,431.17 L1452.51,436.56 L1456.45,445.95 L1460.39,454.1 L1464.32,460.14 L1468.26,467.92 L1472.19,472.22 L1476.13,476.17 L1480.07,478.33 L1484,476.78 L1487.94,474.7 L1491.87,473.41 L1495.81,472.07 L1499.75,472.07 L1503.68,473.6 L1507.62,474.84 L1511.55,475.6 L1515.49,478.93 L1519.43,480.99 L1523.36,483.35 L1527.3,486.29 L1531.23,487.72" fill="none" stroke="#d21216" stroke-width="4.9" stroke-linejoin="round" stroke-linecap="round"/>
<g fill="#969696"><rect x="76" y="592" width="2" height="12"/><rect x="196.1" y="592" width="3.8" height="12"/><rect x="316.2" y="592" width="1.6" height="12"/><rect x="438.2" y="592" width="1.6" height="12"/><rect x="556.2" y="592" width="1.6" height="12"/><rect x="677.9" y="592" width="1.6" height="12"/><rect x="800.2" y="592" width="1.6" height="12"/><rect x="918.4" y="592" width="1.6" height="12"/><rect x="1040.2" y="592" width="1.6" height="12"/><rect x="1157.6" y="592" width="1.6" height="12"/><rect x="1280.2" y="592" width="1.6" height="12"/><rect x="1402.5" y="592" width="1.6" height="12"/><rect x="1508.1" y="592" width="3.8" height="12"/></g>
<g fill="#969696" stroke="#969696" stroke-width="0.7" font-size="33" text-anchor="middle"><text x="96" y="636" textLength="142.8" lengthAdjust="spacingAndGlyphs">Mar. 2020</text><text x="211" y="636" textLength="52.4" lengthAdjust="spacingAndGlyphs">Apr.</text><text x="331.1" y="636" textLength="57.4" lengthAdjust="spacingAndGlyphs">May</text><text x="452.8" y="636" textLength="58" lengthAdjust="spacingAndGlyphs">Jun.</text><text x="566.3" y="636" textLength="47.8" lengthAdjust="spacingAndGlyphs">Jul.</text><text x="695.4" y="636" textLength="60.8" lengthAdjust="spacingAndGlyphs">Aug.</text><text x="822.9" y="636" textLength="73" lengthAdjust="spacingAndGlyphs">Sept.</text><text x="932.6" y="636" textLength="57.2" lengthAdjust="spacingAndGlyphs">Oct.</text><text x="1057.2" y="636" textLength="61.2" lengthAdjust="spacingAndGlyphs">Nov.</text><text x="1176.2" y="636" textLength="63.2" lengthAdjust="spacingAndGlyphs">Dec.</text><text x="1297.1" y="636" textLength="136.6" lengthAdjust="spacingAndGlyphs">Jan. 2021</text><text x="1418" y="636" textLength="58.4" lengthAdjust="spacingAndGlyphs">Feb.</text><text x="1531.1" y="636" textLength="61.4" lengthAdjust="spacingAndGlyphs">Mar.</text></g>
<g font-size="30" text-anchor="middle" stroke-linejoin="round">
<g fill="#fff" stroke="#fff" stroke-width="6"><text x="650" y="406" textLength="71" lengthAdjust="spacingAndGlyphs">7-day</text><text x="649.6" y="436" textLength="100" lengthAdjust="spacingAndGlyphs">average</text><text x="1269.5" y="70" text-anchor="end" textLength="55" lengthAdjust="spacingAndGlyphs">New</text><text x="1269.5" y="100" text-anchor="end" textLength="72" lengthAdjust="spacingAndGlyphs">cases</text></g>
<g fill="#333" stroke="#333" stroke-width="0.7"><text x="650" y="406" textLength="71" lengthAdjust="spacingAndGlyphs">7-day</text><text x="649.6" y="436" textLength="100" lengthAdjust="spacingAndGlyphs">average</text><text x="1269.5" y="70" text-anchor="end" textLength="55" lengthAdjust="spacingAndGlyphs">New</text><text x="1269.5" y="100" text-anchor="end" textLength="72" lengthAdjust="spacingAndGlyphs">cases</text></g>
</g>
<line x1="650.8" y1="450" x2="650.8" y2="475" stroke="#333" stroke-width="1.6"/>
<rect x="1278" y="88" width="24" height="4" fill="#333"/>
</svg>
</body></html>
